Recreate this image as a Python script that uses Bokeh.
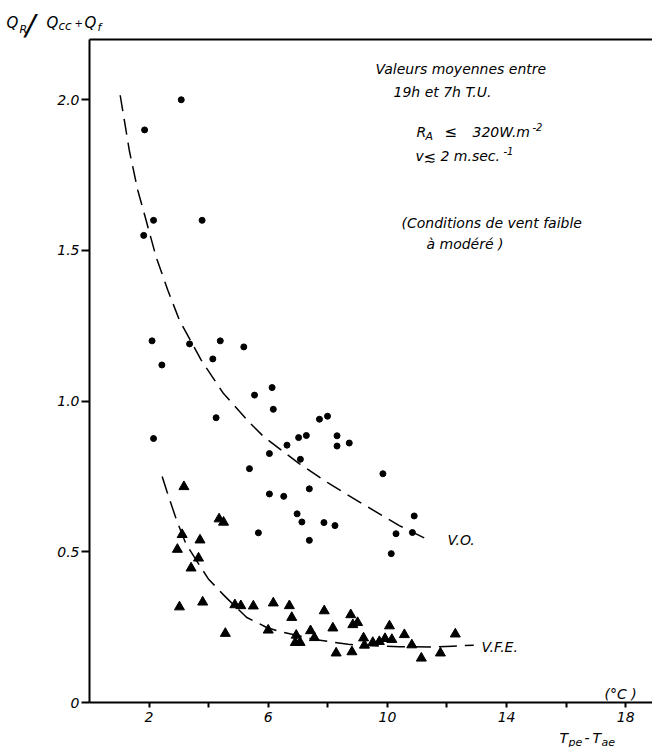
from bokeh.plotting import figure
from bokeh.models import Range1d, FixedTicker, LinearAxis, Label
from bokeh.embed import file_html
from bokeh.resources import INLINE

# ---- data ----
vo_x = [3.08, 1.85, 2.15, 3.78, 1.82, 2.10, 3.36, 4.39, 5.18, 4.14, 2.43, 2.15, 4.25,
        5.54, 6.13, 6.17, 5.37, 7.72, 7.99, 7.02, 7.28, 6.63, 8.31, 8.31, 8.72, 6.04,
        7.08, 9.85, 7.38, 6.04, 6.52, 6.97, 7.13, 7.87, 8.24, 5.67, 7.38, 10.90, 10.29,
        10.84, 10.13]
vo_y = [2.00, 1.90, 1.60, 1.60, 1.55, 1.20, 1.19, 1.20, 1.18, 1.14, 1.12, 0.876, 0.945,
        1.02, 1.045, 0.973, 0.776, 0.94, 0.95, 0.879, 0.886, 0.854, 0.885, 0.851, 0.861, 0.826,
        0.807, 0.759, 0.709, 0.692, 0.684, 0.626, 0.599, 0.597, 0.587, 0.563, 0.538, 0.619, 0.560,
        0.564, 0.494]

vfe_x = [3.17, 4.35, 4.50, 3.11, 3.71, 2.95, 3.66, 3.41, 3.02, 3.80, 4.88, 5.08, 5.50, 6.17,
         4.56, 6.00, 6.71, 6.79, 7.88, 8.77, 9.00, 8.84, 8.17, 7.42, 7.55, 6.94, 6.91, 7.07,
         10.07, 10.57, 9.20, 9.23, 9.51, 9.73, 9.92, 10.15, 10.82, 8.28, 8.81, 11.14, 11.78, 12.28]
vfe_y = [0.716, 0.609, 0.598, 0.557, 0.539, 0.508, 0.479, 0.446, 0.317, 0.333, 0.324, 0.321, 0.320, 0.330,
         0.229, 0.240, 0.321, 0.282, 0.304, 0.291, 0.265, 0.258, 0.247, 0.238, 0.215, 0.223, 0.199, 0.199,
         0.254, 0.225, 0.214, 0.190, 0.199, 0.202, 0.212, 0.209, 0.191, 0.164, 0.168, 0.147, 0.164, 0.227]

# fitted curves
vo_fit_x = [1.03, 1.34, 1.62, 1.90, 2.24, 2.63, 3.02, 3.75, 4.50, 5.37, 5.87, 7.05, 8.05, 9.17, 10.40, 11.30]
vo_fit_y = [2.015, 1.83, 1.70, 1.60, 1.477, 1.368, 1.268, 1.136, 1.025, 0.929, 0.88, 0.792, 0.726, 0.659, 0.587, 0.543]

vfe_fit_x = [2.44, 2.61, 2.93, 3.24, 3.60, 3.99, 4.59, 5.28, 5.95, 6.39, 7.06, 7.50, 8.00, 8.68, 9.47, 10.40, 11.50, 12.19, 12.90]
vfe_fit_y = [0.750, 0.697, 0.603, 0.526, 0.470, 0.410, 0.348, 0.282, 0.249, 0.235, 0.221, 0.210, 0.203, 0.193, 0.188, 0.185, 0.184, 0.187, 0.190]

x_ticks = [2, 4, 6, 8, 10, 12, 14, 16, 18]
x_tick_labels = {2: "2", 4: "", 6: "6", 8: "", 10: "10", 12: "", 14: "14", 16: "", 18: "18"}
y_ticks = [0, 0.5, 1.0, 1.5, 2.0]
y_tick_labels = {0: "0", 0.5: "0.5", 1: "1.0", 1.5: "1.5", 2: "2.0"}

X_MAX, Y_MAX = 18.9, 2.2
W, H = 652, 747
# page position of the axes box (left, top, bottom); right edge = W
AX_L, AX_T, AX_B = 89, 39, 702
PXU = (W - AX_L) / X_MAX
PYU = (AX_B - AX_T) / Y_MAX
FONT = "DejaVu Sans"

p = figure(width=W, height=H,
           x_range=Range1d(-AX_L / PXU, X_MAX),
           y_range=Range1d(-(H - AX_B) / PYU, Y_MAX + AX_T / PYU),
           output_backend="svg", toolbar_location=None,
           min_border_left=0, min_border_right=0, min_border_top=0, min_border_bottom=0)
p.grid.visible = False
p.outline_line_color = None
p.background_fill_color = "white"

for ax in (p.xaxis[0], p.yaxis[0]):
    ax.fixed_location = 0
    ax.axis_line_width = 2
    ax.major_tick_line_width = 2
    ax.major_tick_in = 0
    ax.minor_tick_line_color = None
    ax.major_label_text_font = FONT
    ax.major_label_text_font_style = "italic"
    ax.major_label_text_font_size = "14px"
    ax.major_label_text_color = "black"

p.xaxis[0].bounds = (0, X_MAX)
p.xaxis[0].ticker = FixedTicker(ticks=x_ticks)
p.xaxis[0].major_label_overrides = x_tick_labels
p.xaxis[0].major_tick_out = 5
p.xaxis[0].major_label_standoff = 4
p.yaxis[0].bounds = (0, Y_MAX)
p.yaxis[0].ticker = FixedTicker(ticks=y_ticks)
p.yaxis[0].major_label_overrides = y_tick_labels
p.yaxis[0].major_tick_out = 8
p.yaxis[0].major_label_standoff = 2

top = LinearAxis(fixed_location=Y_MAX, bounds=(0, X_MAX), ticker=FixedTicker(ticks=[]),
                 axis_line_width=2, major_tick_line_color=None, minor_tick_line_color=None,
                 major_label_text_font_size="0px")
p.add_layout(top, "above")

p.line(vo_fit_x, vo_fit_y, line_color="black", line_width=1.5, line_dash="16 8")
p.line(vfe_fit_x, vfe_fit_y, line_color="black", line_width=1.5, line_dash="18 8")
p.scatter(vo_x, vo_y, marker="circle", size=6, color="black")
p.scatter(vfe_x, vfe_y, marker="triangle", size=10, color="black")

# annotation placement helpers (page pixels -> data units)
def fx(px):
    return (px - AX_L) / PXU
def fy(py):
    return (AX_B - py) / PYU

def put(text, px, py, size=14, style="italic"):
    p.add_layout(Label(x=fx(px), y=fy(py), text=text, text_font=FONT,
                       text_font_style=style, text_font_size=f"{size}px",
                       text_color="black", text_baseline="alphabetic", text_align="left"))

put("Valeurs moyennes entre", 375, 68)
put("19h et 7h T.U.", 393, 91.5)
put("R", 416, 131.5)
put("A", 425, 135.5, 11)
put("\u2264", 444, 131.5, 15)
put("320W.m", 472, 131.5)
put("-2", 532, 126, 10)
put("v", 415, 155)
put("\u2272", 423, 156, 15)
put("2 m.sec.", 440, 155)
put("-1", 503, 150, 10)
put("(Conditions de vent faible", 401, 222.5)
put("\u00e0 mod\u00e9r\u00e9 )", 426, 243.5)
put("V.O.", 447, 539)
put("V.F.E.", 481, 646.5)
put("(\u00b0C )", 604, 693)
put("T", 559, 737)
put("pe", 568, 741.5, 11)
put("-", 584, 737)
put("T", 592, 737)
put("ae", 601, 741.5, 11)
put("Q", 6, 22, 15)
put("R", 19, 28.5, 11)
put("/", 25, 24, 29)
put("Q", 46, 22, 15)
put("cc", 58, 25.5, 12)
put("+", 74, 22.5, 10)
put("Q", 84, 22, 15)
put("f", 97, 26.5, 11)

open("out.html", "w").write(file_html(p, INLINE))
